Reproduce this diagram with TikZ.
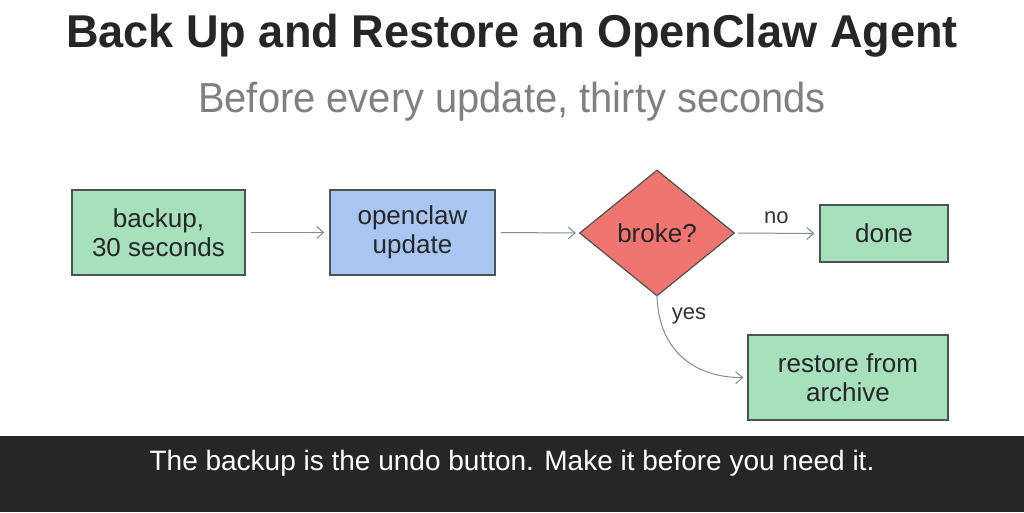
\documentclass[tikz,border=0pt]{standalone}
\usepackage{fontspec}
\setmainfont{Liberation Sans}
\usetikzlibrary{shapes.geometric,arrows.meta}
\definecolor{bx}{HTML}{4A5550}
\definecolor{gr}{HTML}{A6E0BC}
\definecolor{bl}{HTML}{A9C6F2}
\definecolor{rd}{HTML}{F07470}
\definecolor{ar}{HTML}{7E9088}
\begin{document}
\begin{tikzpicture}[x=1pt,y=-1pt,
 box/.style={draw=bx,line width=1.2pt,align=center,font=\fontsize{26}{29}\selectfont,text=black!85,inner sep=0pt},
 con/.style={draw=ar,line width=1pt,-{Straight Barb[length=7pt,width=12pt]}},
 lab/.style={font=\fontsize{22}{26}\selectfont,text=black!80}]
\useasboundingbox (0,0) rectangle (1024,512);
\fill[white] (0,0) rectangle (1024,512);
\node[font=\bfseries\fontsize{46}{52}\selectfont,text=black!85,xscale=0.98] (title) at (512,36) {Back Up and Restore an OpenClaw Agent};
\node[font=\fontsize{42}{46}\selectfont,text=black!50,xscale=0.95] (sub) at (512,102) {Before every update, thirty seconds};
\node[box,fill=gr,minimum width=173pt,minimum height=85pt] (b1) at (158.5,232.5) {backup,\\30 seconds};
\node[box,fill=bl,minimum width=165pt,minimum height=85pt] (b2) at (412.5,232.5) {openclaw\\update};
\node[box,fill=rd,diamond,aspect=1.2,minimum width=155pt,minimum height=126pt] (d) at (657,233) {broke?};
\node[box,fill=gr,minimum width=128pt,minimum height=57pt] (done) at (884,233.5) {done};
\node[box,fill=gr,minimum width=200pt,minimum height=85pt] (rs) at (848,377.5) {restore from\\archive};
\draw[con] ([xshift=5pt]b1.east) -- ([xshift=-5pt]b2.west);
\draw[con] ([xshift=5pt]b2.east) -- ([xshift=-3pt]d.west);
\draw[con] ([xshift=3pt]d.east) -- ([xshift=-5pt]done.west) node[lab,midway,above=6pt] {no};
\draw[con] ([yshift=4pt]d.south) .. controls (657,355) and (700,378) .. ([xshift=-4pt]rs.west);
\node[lab] (yes) at (689,316) {yes};
\fill[black!85] (0,436) rectangle (1024,512);
\node[font=\fontsize{28}{32}\selectfont,text=white] (cap) at (512,463) {The backup is the undo button. Make it before you need it.};
\end{tikzpicture}
\end{document}
